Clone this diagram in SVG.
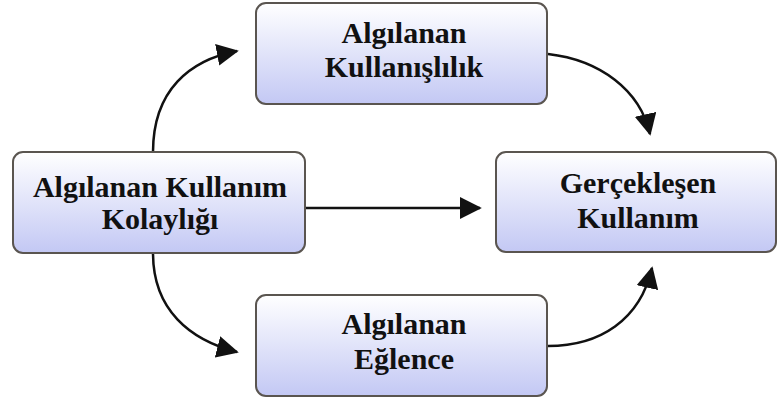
<svg xmlns="http://www.w3.org/2000/svg" width="779" height="401" viewBox="0 0 779 401">
  <defs>
    <linearGradient id="boxFill" x1="0" y1="0" x2="0" y2="1">
      <stop offset="0" stop-color="#ffffff"/>
      <stop offset="1" stop-color="#c3c8f4"/>
    </linearGradient>
    <marker id="head" viewBox="0 0 12 12" refX="11" refY="6" markerWidth="22" markerHeight="22" markerUnits="userSpaceOnUse" orient="auto">
      <path d="M0,0 L12,6 L0,12 z" fill="#111"/>
    </marker>
  </defs>
  <style>
    .box { fill: url(#boxFill); stroke: #5a5550; stroke-width: 2; }
    .label { font-family: "Times New Roman", Tinos, "Liberation Serif", "DejaVu Serif", serif; font-weight: bold; font-size: 30px; fill: #111; text-anchor: middle; }
    .link { fill: none; stroke: #111; stroke-width: 2.5; marker-end: url(#head); }
  </style>
  <rect width="779" height="401" fill="#ffffff"/>

  <g id="connectors">
    <path class="link" d="M153,152 C153,90 190,60 237,51"/>
    <path class="link" d="M305,208 L480,208"/>
    <path class="link" d="M548,54 C600,60 640,90 650,134"/>
    <path class="link" d="M153,253 C153,310 190,340 237,352"/>
    <path class="link" d="M548,346 C600,346 640,320 652,268"/>
  </g>

  <g id="node-kolaylik">
    <rect class="box" x="13" y="152" width="292" height="101" rx="10"/>
    <text class="label" x="160" y="197">Algılanan Kullanım</text>
    <text class="label" x="160" y="229">Kolaylığı</text>
  </g>

  <g id="node-kullanislilik">
    <rect class="box" x="256" y="3" width="291" height="101" rx="10"/>
    <text class="label" x="404" y="43">Algılanan</text>
    <text class="label" x="404" y="77">Kullanışlılık</text>
  </g>

  <g id="node-gerceklesen">
    <rect class="box" x="496" y="152" width="280" height="100" rx="10"/>
    <text class="label" x="638" y="193">Gerçekleşen</text>
    <text class="label" x="638" y="228">Kullanım</text>
  </g>

  <g id="node-eglence">
    <rect class="box" x="256" y="295" width="291" height="101" rx="10"/>
    <text class="label" x="404" y="334">Algılanan</text>
    <text class="label" x="404" y="369">Eğlence</text>
  </g>
</svg>
